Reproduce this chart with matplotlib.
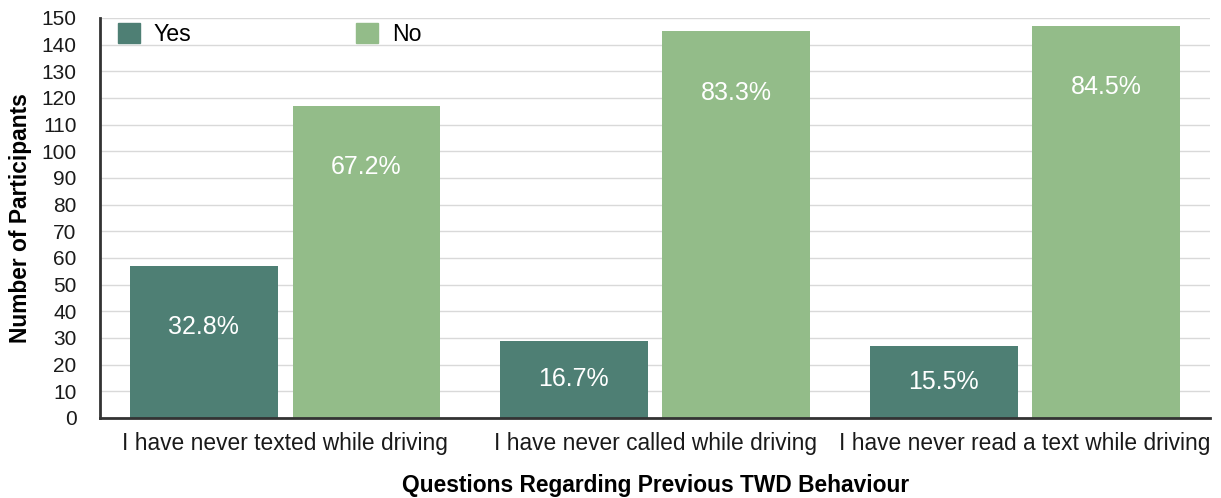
import matplotlib.pyplot as plt
from matplotlib.patches import Patch
import numpy as np

plt.rcParams['font.family'] = ['Liberation Sans', 'DejaVu Sans']

questions = ['I have never texted while driving',
             'I have never called while driving',
             'I have never read a text while driving']
yes_counts = [57, 29, 27]
no_counts = [117, 145, 147]
yes_pct = ['32.8%', '16.7%', '15.5%']
no_pct = ['67.2%', '83.3%', '84.5%']

yes_color = '#4e7f74'
no_color = '#93bc89'

fig = plt.figure(figsize=(12.21, 4.98), dpi=100)
ax = fig.add_axes([0.082, 0.161, 0.909, 0.803])

x = np.arange(len(questions))
w = 0.4
ax.bar(x - 0.22, yes_counts, w, color=yes_color, zorder=2)
ax.bar(x + 0.22, no_counts, w, color=no_color, zorder=2)

# percent labels inside the bars, near the top
for xi, v, s in zip(x - 0.22, yes_counts, yes_pct):
    ax.text(xi, max(v - 23, v / 2), s, ha='center', va='center',
            color='white', fontsize=18)
for xi, v, s in zip(x + 0.22, no_counts, no_pct):
    ax.text(xi, max(v - 23, v / 2), s, ha='center', va='center',
            color='white', fontsize=18)

ax.set_xlim(-0.5, 2.5)
ax.set_ylim(0, 150)
ax.set_yticks(range(0, 151, 10))
ax.set_xticks(x)
ax.set_xticklabels(questions, fontsize=16.4, color='#1a1a1a')
ax.tick_params(axis='y', labelsize=15, length=0, pad=17, labelcolor='#1a1a1a')
ax.tick_params(axis='x', length=0, pad=10)
ax.yaxis.grid(True, color='#d9d9d9', linewidth=1, zorder=0)
ax.set_axisbelow(True)
for s in ['top', 'right']:
    ax.spines[s].set_visible(False)
for s in ['left', 'bottom']:
    ax.spines[s].set_linewidth(2)
    ax.spines[s].set_color('#333333')

ax.set_ylabel('Number of Participants', fontsize=16.4, fontweight='bold', labelpad=7)
ax.set_xlabel('Questions Regarding Previous TWD Behaviour', fontsize=16.4,
              fontweight='bold', labelpad=14)

handles = [Patch(color=yes_color, label='Yes'), Patch(color=no_color, label='No')]
ax.legend(handles=handles, ncol=2, loc='upper left', bbox_to_anchor=(-0.003, 1.04),
          frameon=False, fontsize=16.7, handlelength=0.95, handleheight=0.95,
          columnspacing=7.1, handletextpad=0.6)

fig.savefig('out.png', dpi=100)
